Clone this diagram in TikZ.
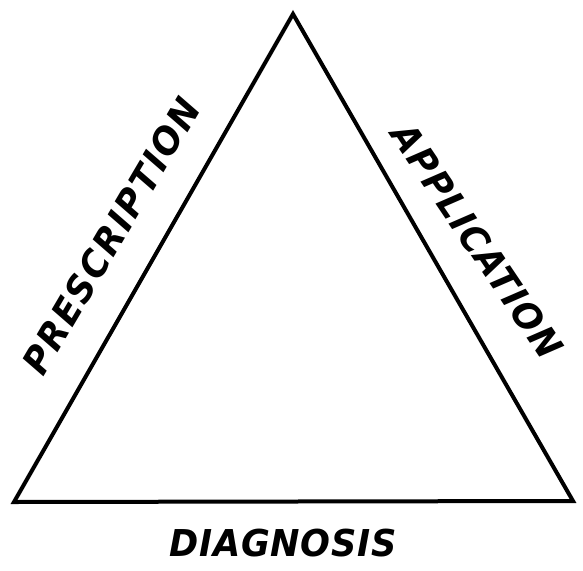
\documentclass[tikz,border=0pt]{standalone}
\usepackage{fontspec}
\setsansfont{DejaVu Sans}
\usetikzlibrary{positioning}

\begin{document}
\begin{tikzpicture}[
        x=1pt, y=-1pt,
        side/.style={line width=4pt, line join=miter},
        word/.style={inner sep=0pt, font=\sffamily\bfseries\itshape\fontsize{37}{37}\selectfont},
    ]
        \useasboundingbox (0,0) rectangle (583,570);
        \coordinate (apex) at (293,14);
        \coordinate (left) at (14,502);
        \coordinate (right) at (573,501);

        \draw [side] (apex) -- (right) -- (left) -- cycle;

        \node (prescription) [word, rotate=59.5, xscale=0.95] at (111,236)
            {\addfontfeature{LetterSpace=6}PRESCRIPTION};
        \node (application) [word, rotate=-56, xscale=0.95] at (477,241)
            {\addfontfeature{LetterSpace=4}APPLICATION};
        \node (diagnosis) [word, xscale=0.95] at (283,543)
            {\addfontfeature{LetterSpace=2}DIAGNOSIS};
    \end{tikzpicture}
\end{document}
